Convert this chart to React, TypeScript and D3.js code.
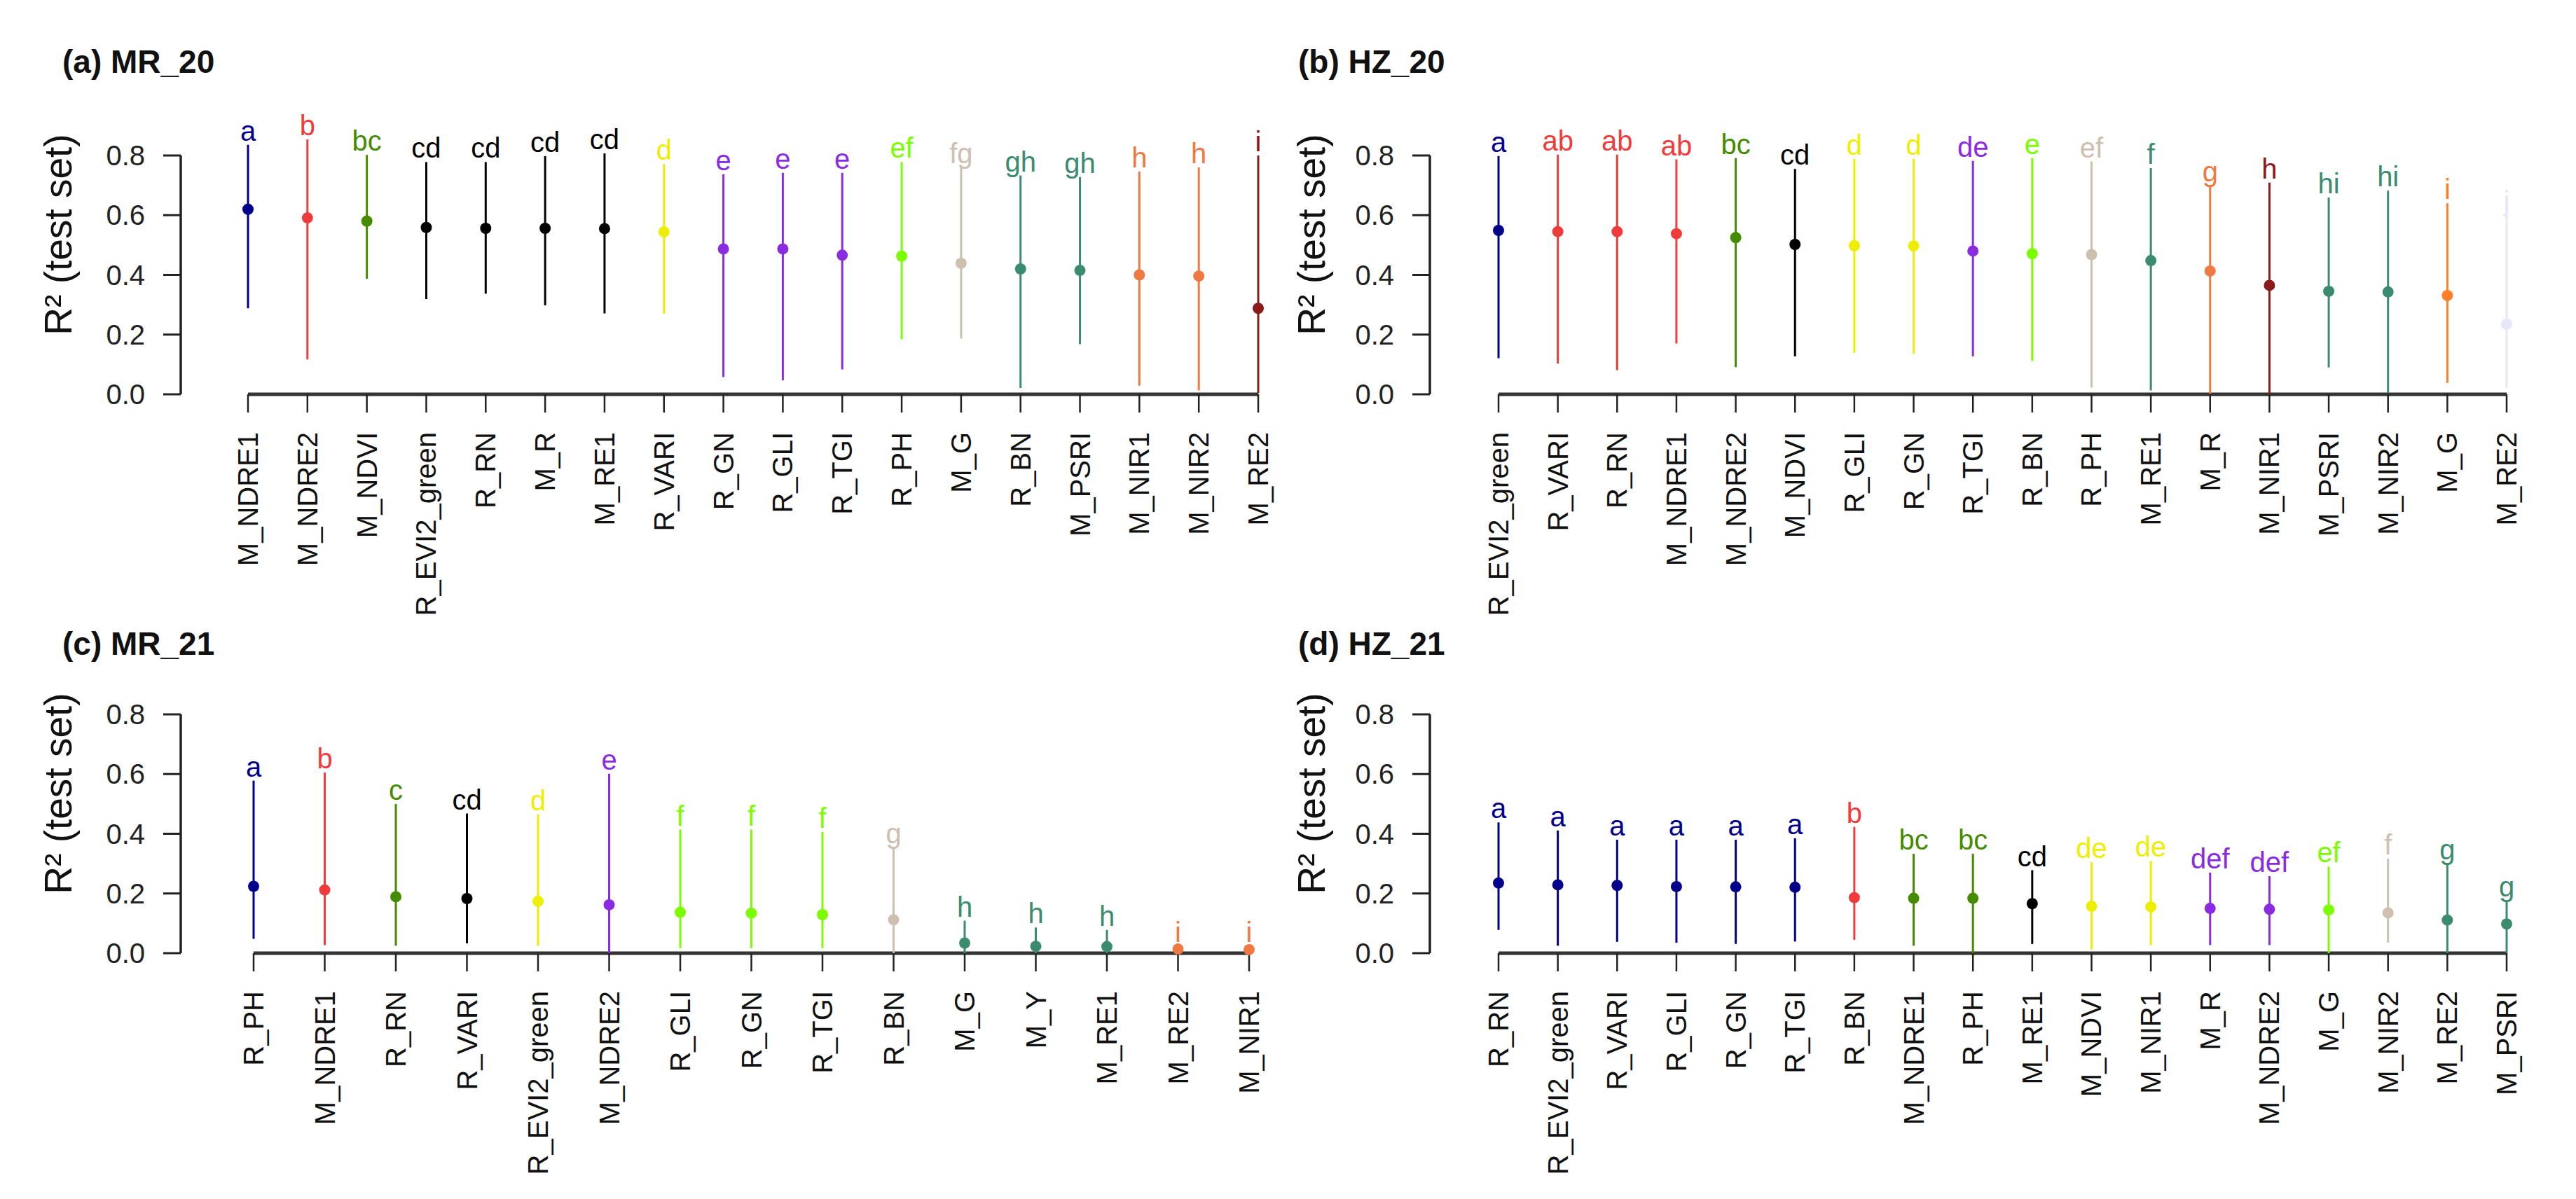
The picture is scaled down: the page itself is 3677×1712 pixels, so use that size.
import React, { useEffect, useRef } from 'react';
import * as d3 from 'd3';

const FONT = '"Liberation Sans", Arial, Helvetica, sans-serif';

const palette: Record<string, string> = {
  navy: '#00008B',
  red: '#EF3B3B',
  green: '#458B00',
  black: '#000000',
  yellow: '#EEEE00',
  purple: '#8A2BE2',
  lawn: '#7CFC00',
  tan: '#CDC0B0',
  teal: '#3B8B6E',
  orange: '#EE7942',
  darkred: '#8B1A1A',
  orange2: '#FF7F24',
  lavender: '#E6E6FA',
};

// (a) MR_20
const catsA = ['M_NDRE1', 'M_NDRE2', 'M_NDVI', 'R_EVI2_green', 'R_RN', 'M_R', 'M_RE1', 'R_VARI', 'R_GN', 'R_GLI', 'R_TGI', 'R_PH', 'M_G', 'R_BN', 'M_PSRI', 'M_NIR1', 'M_NIR2', 'M_RE2'];
const meanA = [0.620, 0.591, 0.580, 0.559, 0.556, 0.556, 0.555, 0.544, 0.487, 0.487, 0.466, 0.463, 0.439, 0.420, 0.415, 0.400, 0.396, 0.288];
const lowA = [0.288, 0.117, 0.387, 0.319, 0.337, 0.298, 0.271, 0.270, 0.058, 0.047, 0.083, 0.184, 0.187, 0.021, 0.168, 0.029, 0.013, 0.004];
const highA = [0.836, 0.854, 0.802, 0.778, 0.778, 0.798, 0.807, 0.771, 0.737, 0.742, 0.742, 0.778, 0.760, 0.733, 0.728, 0.746, 0.760, 0.800];
const lettersA = ['a', 'b', 'bc', 'cd', 'cd', 'cd', 'cd', 'd', 'e', 'e', 'e', 'ef', 'fg', 'gh', 'gh', 'h', 'h', 'i'];
const colorsA = ['navy', 'red', 'green', 'black', 'black', 'black', 'black', 'yellow', 'purple', 'purple', 'purple', 'lawn', 'tan', 'teal', 'teal', 'orange', 'orange', 'darkred'];

// (b) HZ_20
const catsB = ['R_EVI2_green', 'R_VARI', 'R_RN', 'M_NDRE1', 'M_NDRE2', 'M_NDVI', 'R_GLI', 'R_GN', 'R_TGI', 'R_BN', 'R_PH', 'M_RE1', 'M_R', 'M_NIR1', 'M_PSRI', 'M_NIR2', 'M_G', 'M_RE2'];
const meanB = [0.549, 0.545, 0.545, 0.538, 0.525, 0.502, 0.498, 0.497, 0.480, 0.471, 0.468, 0.448, 0.413, 0.365, 0.345, 0.343, 0.331, 0.235];
const lowB = [0.121, 0.103, 0.081, 0.170, 0.091, 0.127, 0.139, 0.136, 0.127, 0.112, 0.022, 0.013, 0.002, 0.0, 0.090, 0.004, 0.038, 0.022];
const highB = [0.798, 0.803, 0.803, 0.787, 0.791, 0.755, 0.789, 0.789, 0.782, 0.791, 0.780, 0.758, 0.700, 0.709, 0.659, 0.682, 0.640, 0.600];
const lettersB = ['a', 'ab', 'ab', 'ab', 'bc', 'cd', 'd', 'd', 'de', 'e', 'ef', 'f', 'g', 'h', 'hi', 'hi', 'i', 'j'];
const colorsB = ['navy', 'red', 'red', 'red', 'green', 'black', 'yellow', 'yellow', 'purple', 'lawn', 'tan', 'teal', 'orange', 'darkred', 'teal', 'teal', 'orange2', 'lavender'];

// (c) MR_21
const catsC = ['R_PH', 'M_NDRE1', 'R_RN', 'R_VARI', 'R_EVI2_green', 'M_NDRE2', 'R_GLI', 'R_GN', 'R_TGI', 'R_BN', 'M_G', 'M_Y', 'M_RE1', 'M_RE2', 'M_NIR1'];
const meanC = [0.224, 0.212, 0.189, 0.183, 0.174, 0.162, 0.137, 0.134, 0.129, 0.112, 0.034, 0.023, 0.022, 0.014, 0.012];
const lowC = [0.048, 0.027, 0.025, 0.033, 0.025, 0.0, 0.017, 0.017, 0.017, 0.0, 0.0, 0.0, 0.0, 0.0, 0.0];
const highC = [0.578, 0.605, 0.500, 0.468, 0.465, 0.601, 0.414, 0.414, 0.406, 0.355, 0.109, 0.086, 0.078, 0.023, 0.023];
const lettersC = ['a', 'b', 'c', 'cd', 'd', 'e', 'f', 'f', 'f', 'g', 'h', 'h', 'h', 'i', 'i'];
const colorsC = ['navy', 'red', 'green', 'black', 'yellow', 'purple', 'lawn', 'lawn', 'lawn', 'tan', 'teal', 'teal', 'teal', 'orange', 'orange'];

// (d) HZ_21
const catsD = ['R_RN', 'R_EVI2_green', 'R_VARI', 'R_GLI', 'R_GN', 'R_TGI', 'R_BN', 'M_NDRE1', 'R_PH', 'M_RE1', 'M_NDVI', 'M_NIR1', 'M_R', 'M_NDRE2', 'M_G', 'M_NIR2', 'M_RE2', 'M_PSRI'];
const meanD = [0.235, 0.229, 0.227, 0.223, 0.222, 0.221, 0.186, 0.184, 0.184, 0.166, 0.157, 0.155, 0.150, 0.147, 0.145, 0.135, 0.111, 0.098];
const lowD = [0.078, 0.025, 0.038, 0.035, 0.031, 0.039, 0.045, 0.025, 0.0, 0.031, 0.012, 0.027, 0.027, 0.027, 0.0, 0.035, 0.0, 0.0];
const highD = [0.438, 0.411, 0.380, 0.380, 0.380, 0.385, 0.423, 0.333, 0.333, 0.278, 0.305, 0.309, 0.270, 0.258, 0.290, 0.317, 0.300, 0.175];
const lettersD = ['a', 'a', 'a', 'a', 'a', 'a', 'b', 'bc', 'bc', 'cd', 'de', 'de', 'def', 'def', 'ef', 'f', 'g', 'g'];
const colorsD = ['navy', 'navy', 'navy', 'navy', 'navy', 'navy', 'red', 'green', 'green', 'black', 'yellow', 'yellow', 'purple', 'purple', 'lawn', 'tan', 'teal', 'teal'];

const yTicks = [0, 0.2, 0.4, 0.6, 0.8];

interface Panel {
  title: string;
  cats: string[];
  mean: number[];
  low: number[];
  high: number[];
  letters: string[];
  colors: string[];
  axisX: number;
  firstX: number;
  lastX: number;
  y0: number;
  y8: number;
  titleX: number;
  titleY: number;
  ylabX: number;
}

const panels: Panel[] = [
  { title: '(a) MR_20', cats: catsA, mean: meanA, low: lowA, high: highA, letters: lettersA, colors: colorsA,
    axisX: 258, firstX: 354, lastX: 1796, y0: 563, y8: 222, titleX: 89, titleY: 104, ylabX: 83 },
  { title: '(b) HZ_20', cats: catsB, mean: meanB, low: lowB, high: highB, letters: lettersB, colors: colorsB,
    axisX: 2041, firstX: 2139, lastX: 3578, y0: 563, y8: 222, titleX: 1853, titleY: 104, ylabX: 1872 },
  { title: '(c) MR_21', cats: catsC, mean: meanC, low: lowC, high: highC, letters: lettersC, colors: colorsC,
    axisX: 258, firstX: 362, lastX: 1783, y0: 1361, y8: 1020, titleX: 89, titleY: 935, ylabX: 83 },
  { title: '(d) HZ_21', cats: catsD, mean: meanD, low: lowD, high: highD, letters: lettersD, colors: colorsD,
    axisX: 2041, firstX: 2139, lastX: 3578, y0: 1361, y8: 1020, titleX: 1853, titleY: 935, ylabX: 1872 },
];

const App: React.FC = () => {
  const svgRef = useRef<SVGSVGElement>(null);

  useEffect(() => {
    if (!svgRef.current) return;
    document.body.style.margin = '0';
    const svg = d3.select(svgRef.current);
    svg.selectAll('*').remove();

    svg.append('rect').attr('width', 3677).attr('height', 1712).attr('fill', '#fff');

    panels.forEach((p) => {
      const g = svg.append('g').style('font-family', FONT);
      const x = d3.scalePoint<string>().domain(p.cats).range([p.firstX, p.lastX]);
      const y = d3.scaleLinear().domain([0, 0.8]).range([p.y0, p.y8]);

      // title
      g.append('text')
        .attr('x', p.titleX)
        .attr('y', p.titleY)
        .style('font-size', '46px')
        .style('font-weight', 'bold')
        .attr('fill', '#111')
        .text(p.title);

      // y axis
      g.append('line')
        .attr('x1', p.axisX).attr('x2', p.axisX)
        .attr('y1', y(0)).attr('y2', y(0.8))
        .attr('stroke', '#222').attr('stroke-width', 3.5);
      yTicks.forEach((t) => {
        g.append('line')
          .attr('x1', p.axisX - 25).attr('x2', p.axisX)
          .attr('y1', y(t)).attr('y2', y(t))
          .attr('stroke', '#222').attr('stroke-width', 3);
        g.append('text')
          .attr('x', p.axisX - 51)
          .attr('y', y(t))
          .attr('text-anchor', 'end')
          .attr('dominant-baseline', 'central')
          .style('font-size', '40px')
          .attr('fill', '#222')
          .text(d3.format('.1f')(t));
      });

      g.append('text')
        .attr('transform', `translate(${p.ylabX},${p.y0 - 228}) rotate(-90)`)
        .attr('text-anchor', 'middle')
        .attr('dominant-baseline', 'central')
        .style('font-size', '55px')
        .attr('fill', '#111')
        .text('R² (test set)');

      // x axis
      g.append('line')
        .attr('x1', p.firstX).attr('x2', p.lastX)
        .attr('y1', y(0)).attr('y2', y(0))
        .attr('stroke', '#333').attr('stroke-width', 5);
      p.cats.forEach((c) => {
        const cx = x(c) as number;
        g.append('line')
          .attr('x1', cx).attr('x2', cx)
          .attr('y1', y(0)).attr('y2', y(0) + 26)
          .attr('stroke', '#222').attr('stroke-width', 2.5);
        g.append('text')
          .attr('transform', `translate(${cx},${y(0) + 54}) rotate(-90)`)
          .attr('text-anchor', 'end')
          .attr('dominant-baseline', 'central')
          .style('font-size', '40px')
          .attr('fill', '#111')
          .text(c);
      });

      // error bars, points and group letters
      p.cats.forEach((c, i) => {
        const cx = x(c) as number;
        const col = palette[p.colors[i]];
        g.append('line')
          .attr('x1', cx).attr('x2', cx)
          .attr('y1', y(p.low[i])).attr('y2', y(p.high[i]))
          .attr('stroke', col).attr('stroke-width', 3);
        g.append('circle')
          .attr('cx', cx).attr('cy', y(p.mean[i]))
          .attr('r', 8)
          .attr('fill', col);
        g.append('text')
          .attr('x', cx)
          .attr('y', y(p.high[i]) - 6)
          .attr('text-anchor', 'middle')
          .style('font-size', '40px')
          .attr('fill', col)
          .text(p.letters[i]);
      });
    });
  }, []);

  return (
    <svg
      ref={svgRef}
      width={3677}
      height={1712}
      style={{ position: 'absolute', left: 0, top: 0, display: 'block' }}
    />
  );
};

export default App;
